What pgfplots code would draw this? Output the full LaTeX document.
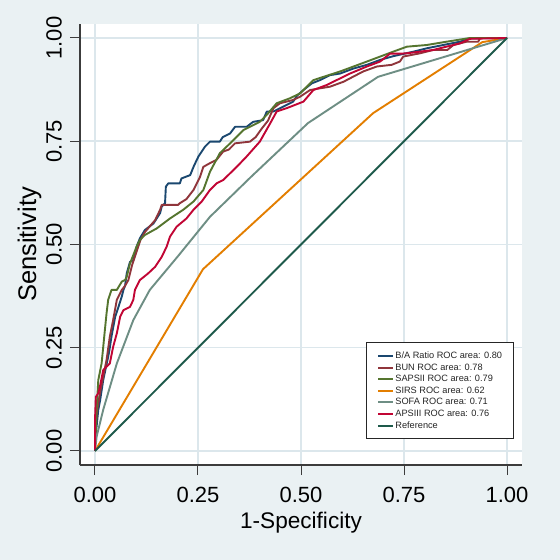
\documentclass[border=0pt]{standalone}
\usepackage{pgfplots}
\pgfplotsset{compat=1.18}
\usepackage{fontspec}
\setmainfont{Liberation Sans}
\definecolor{bgc}{RGB}{234,241,243}
\definecolor{gridc}{RGB}{220,231,236}
\definecolor{snavy}{RGB}{26,71,111}
\definecolor{smaroon}{RGB}{144,53,59}
\definecolor{sgreen}{RGB}{85,117,47}
\definecolor{sorange}{RGB}{227,126,0}
\definecolor{steal}{RGB}{110,142,132}
\definecolor{scran}{RGB}{193,5,52}
\definecolor{sref}{RGB}{30,90,75}
\definecolor{axc}{RGB}{60,60,60}
\begin{document}
\begin{tikzpicture}[x=1pt,y=1pt]
\path[use as bounding box, fill=bgc] (0,0) rectangle (560,560);
\begin{axis}[
  at={(80pt,95pt)}, anchor=south west,
  scale only axis, width=442pt, height=441pt,
  xmin=-0.0364, xmax=1.0364, ymin=-0.0339, ymax=1.0339,
  axis background/.style={fill=white},
  axis x line*=bottom, axis y line*=left,
  axis line style={draw=axc, line width=1.2pt},
  every outer x axis line/.append style={-}, every outer y axis line/.append style={-},
  tick align=outside, major tick length=10pt,
  tick style={draw=axc, line width=1pt},
  xtick={0,0.25,0.5,0.75,1}, ytick={0,0.25,0.5,0.75,1},
  xticklabels={0.00,0.25,0.50,0.75,1.00},
  yticklabels={0.00,0.25,0.50,0.75,1.00},
  grid=major, major grid style={draw=gridc, line width=1.5pt},
  xticklabel style={font=\fontsize{22}{22}\selectfont, inner sep=0pt, anchor=base, yshift=-27pt},
  yticklabel style={font=\fontsize{22}{22}\selectfont, inner sep=0pt, xshift=-8.3pt, rotate=90, anchor=base},
  xlabel={1-Specificity}, ylabel={Sensitivity},
  xlabel style={font=\fontsize{22.6}{22.6}\selectfont, at={(axis description cs:0.5,-0.1429)}, anchor=base, inner sep=0pt},
  ylabel style={font=\fontsize{25.5}{25.5}\selectfont, at={(axis description cs:-0.0995,0.5)}, rotate=0, anchor=base, inner sep=0pt},
  legend style={at={(axis description cs:0.982,0.059)}, anchor=south east,
    draw=black!85, line width=0.9pt, fill=white, font=\fontsize{9.2}{11}\selectfont,
    text=black!85, inner xsep=10.5pt, inner ysep=7.5pt, row sep=0.6pt,
    nodes={inner sep=1pt, text height=7pt, text depth=2pt}},
  legend cell align=left,
  legend image code/.code={\draw[#1, line width=2pt] (0pt,0pt) -- (15pt,0pt);},
  every axis plot/.append style={line width=1.9pt, line join=round},
]
% B/A Ratio
\addplot[snavy] coordinates {(0,0)(0,0.03)(0.004,0.06)(0.008,0.1)(0.012,0.12)(0.02,0.172)(0.026,0.2)(0.032,0.228)(0.036,0.25)(0.04,0.277)(0.049,0.325)(0.057,0.349)(0.065,0.374)(0.069,0.39)(0.073,0.40)(0.077,0.43)(0.085,0.458)(0.093,0.462)(0.101,0.495)(0.109,0.515)(0.121,0.535)(0.142,0.551)(0.158,0.576)(0.162,0.592)(0.170,0.6)(0.172,0.64)(0.178,0.648)(0.206,0.648)(0.21,0.66)(0.231,0.668)(0.24,0.69)(0.251,0.713)(0.267,0.737)(0.279,0.749)(0.303,0.749)(0.31,0.76)(0.328,0.769)(0.34,0.785)(0.368,0.785)(0.384,0.797)(0.408,0.801)(0.417,0.822)(0.433,0.822)(0.449,0.83)(0.465,0.838)(0.481,0.846)(0.49,0.86)(0.506,0.874)(0.526,0.89)(0.546,0.898)(0.57,0.91)(0.595,0.914)(0.627,0.926)(0.66,0.935)(0.692,0.947)(0.724,0.956)(0.773,0.967)(0.805,0.975)(0.845,0.983)(0.886,0.991)(0.91,0.999)(1,1)};
\addlegendentry{B/A Ratio ROC area: 0.80\hspace{7pt}}
% BUN
\addplot[smaroon] coordinates {(0,0)(0,0.027)(0.004,0.091)(0.012,0.14)(0.02,0.18)(0.028,0.22)(0.036,0.277)(0.044,0.317)(0.053,0.366)(0.065,0.39)(0.073,0.40)(0.081,0.414)(0.09,0.45)(0.1,0.48)(0.11,0.51)(0.121,0.53)(0.146,0.559)(0.158,0.584)(0.162,0.596)(0.202,0.596)(0.206,0.6)(0.222,0.61)(0.239,0.632)(0.255,0.664)(0.263,0.688)(0.279,0.697)(0.295,0.705)(0.311,0.725)(0.325,0.73)(0.34,0.745)(0.376,0.749)(0.39,0.76)(0.405,0.781)(0.42,0.80)(0.433,0.83)(0.449,0.842)(0.481,0.85)(0.498,0.858)(0.522,0.874)(0.545,0.878)(0.57,0.882)(0.603,0.894)(0.651,0.919)(0.684,0.931)(0.72,0.935)(0.74,0.943)(0.748,0.955)(0.789,0.963)(0.821,0.971)(0.855,0.971)(0.87,0.983)(0.902,0.991)(0.93,0.991)(0.935,1)(1,1)};
\addlegendentry{BUN ROC area: 0.78}
% SAPSII
\addplot[sgreen] coordinates {(0,0)(0.002,0.05)(0.004,0.1)(0.008,0.172)(0.016,0.212)(0.02,0.252)(0.024,0.293)(0.028,0.333)(0.032,0.366)(0.04,0.39)(0.053,0.39)(0.065,0.41)(0.073,0.414)(0.077,0.422)(0.085,0.454)(0.101,0.495)(0.109,0.511)(0.121,0.523)(0.15,0.539)(0.182,0.563)(0.214,0.584)(0.239,0.604)(0.263,0.632)(0.279,0.676)(0.303,0.721)(0.328,0.745)(0.36,0.777)(0.4,0.797)(0.417,0.814)(0.441,0.842)(0.473,0.854)(0.498,0.866)(0.53,0.898)(0.595,0.919)(0.66,0.943)(0.724,0.967)(0.757,0.979)(0.805,0.983)(0.853,0.991)(0.91,1)(1,1)};
\addlegendentry{SAPSII ROC area: 0.79}
% SIRS
\addplot[sorange] coordinates {(0,0)(0.262,0.44)(0.675,0.818)(0.94,0.99)(1,1)};
\addlegendentry{SIRS ROC area: 0.62}
% SOFA
\addplot[steal] coordinates {(0,0)(0.004,0.035)(0.02,0.10)(0.053,0.212)(0.093,0.317)(0.133,0.39)(0.2,0.47)(0.279,0.567)(0.38,0.665)(0.517,0.794)(0.687,0.906)(1,1)};
\addlegendentry{SOFA ROC area: 0.71}
% APSIII
\addplot[scran] coordinates {(0,0)(0,0.075)(0.002,0.131)(0.008,0.14)(0.012,0.156)(0.02,0.196)(0.028,0.204)(0.036,0.212)(0.044,0.252)(0.053,0.285)(0.061,0.325)(0.069,0.341)(0.085,0.349)(0.093,0.366)(0.097,0.39)(0.109,0.414)(0.129,0.43)(0.146,0.446)(0.162,0.47)(0.174,0.495)(0.182,0.519)(0.198,0.543)(0.222,0.563)(0.239,0.584)(0.259,0.604)(0.279,0.632)(0.295,0.648)(0.311,0.656)(0.344,0.688)(0.368,0.713)(0.4,0.749)(0.425,0.793)(0.441,0.822)(0.465,0.83)(0.506,0.846)(0.53,0.874)(0.562,0.886)(0.619,0.914)(0.66,0.931)(0.692,0.943)(0.716,0.962)(0.74,0.962)(0.757,0.963)(0.821,0.971)(0.853,0.979)(0.886,0.987)(0.91,0.998)(1,1)};
\addlegendentry{APSIII ROC area: 0.76}
% Reference
\addplot[sref] coordinates {(0,0)(1,1)};
\addlegendentry{Reference}
\end{axis}
\end{tikzpicture}
\end{document}
